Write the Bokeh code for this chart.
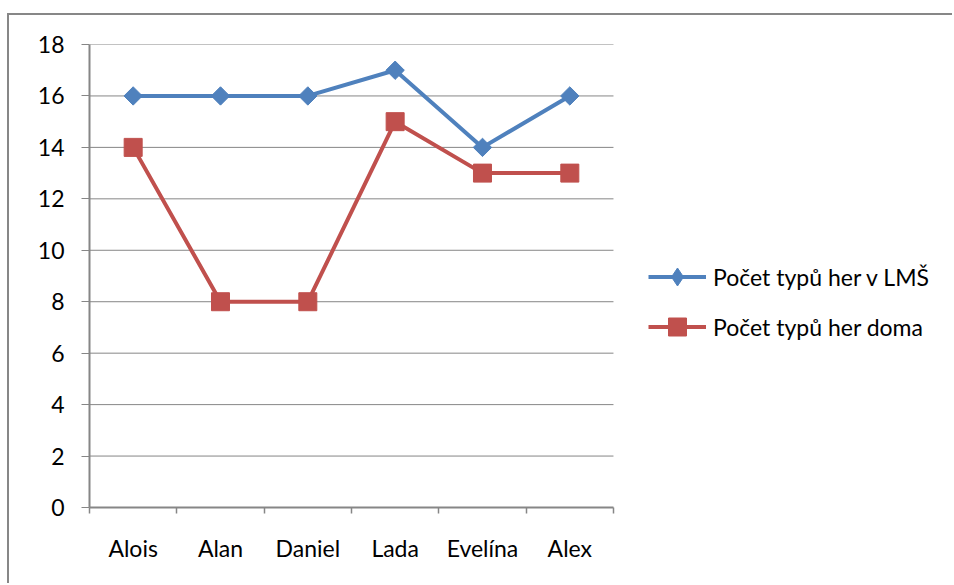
from bokeh.plotting import figure
from bokeh.models import Range1d, FixedTicker, Legend, LegendItem, ColumnDataSource
from bokeh.embed import file_html
from bokeh.resources import INLINE

# Data
names = ["Alois", "Alan", "Daniel", "Lada", "Evelína", "Alex"]
games_lms = [16, 16, 16, 17, 14, 16]
games_home = [14, 8, 8, 15, 13, 13]
y_ticks = [0, 2, 4, 6, 8, 10, 12, 14, 16, 18]

label_lms = "Počet typů her v LMŠ"
label_home = "Počet typů her doma"

BLUE = "#4F81BD"
RED = "#C0504D"
GRID = "#868686"
FONT = "Lato"
FONT_SIZE = "23px"

n = len(names)
x = [i + 0.5 for i in range(n)]
src = ColumnDataSource(dict(x=x, lms=games_lms, home=games_home))

# The frame runs to the right edge so the legend can sit beside the data;
# axis and grid lines are bounded to the category span [0, n].
X_END = 9.905

p = figure(
    width=945, height=570,
    x_range=Range1d(0, X_END), y_range=Range1d(0, 18),
    output_backend="svg", toolbar_location=None,
    min_border_left=80, min_border_right=0,
    min_border_top=29, min_border_bottom=78,
    margin=(13, 0, 0, 7),
    styles={"border-left": "2px solid #878787", "border-top": "2px solid #878787"},
)
p.outline_line_color = None
p.background_fill_color = "white"
p.border_fill_color = "white"

# Axes
xa = p.xaxis[0]
xa.bounds = (0, n)
xa.ticker = FixedTicker(ticks=x, minor_ticks=list(range(n + 1)))
xa.major_label_overrides = {v: s for v, s in zip(x, names)}
xa.major_tick_line_color = None
xa.major_tick_out = 0
xa.major_tick_in = 0
xa.minor_tick_line_color = GRID
xa.minor_tick_line_width = 1.5
xa.minor_tick_out = 6
xa.minor_tick_in = 0
xa.major_label_standoff = 20
xa.axis_line_color = GRID
xa.axis_line_width = 2
xa.major_label_text_font = FONT
xa.major_label_text_font_size = FONT_SIZE
xa.major_label_text_color = "black"

ya = p.yaxis[0]
ya.ticker = FixedTicker(ticks=y_ticks)
ya.minor_tick_line_color = None
ya.major_tick_line_color = GRID
ya.major_tick_line_width = 1
ya.major_tick_out = 8
ya.major_tick_in = 0
ya.major_label_standoff = 17
ya.axis_line_color = GRID
ya.axis_line_width = 2
ya.major_label_text_font = FONT
ya.major_label_text_font_size = FONT_SIZE
ya.major_label_text_color = "black"

p.xgrid.grid_line_color = None
p.ygrid.grid_line_color = None

# Horizontal grid lines across the category span only
grid_y = y_ticks[1:]
p.segment(x0=[0] * len(grid_y), x1=[n] * len(grid_y), y0=grid_y, y1=grid_y,
          line_color=GRID, line_width=1)

# Series
l1 = p.line("x", "lms", source=src, line_color=BLUE, line_width=4)
p.scatter("x", "lms", source=src, marker="square", size=13, angle=0.785398,
          fill_color=BLUE, line_color=BLUE)
l2 = p.line("x", "home", source=src, line_color=RED, line_width=4)
m2 = p.scatter("x", "home", source=src, marker="square", size=18,
               fill_color=RED, line_color=RED)

# Legend key for the diamond series (legend markers are drawn unrotated);
# its single point is NaN so nothing shows in the plot area
key1 = p.scatter([float("nan")], [float("nan")], marker="diamond",
                 fill_color=BLUE, line_color=BLUE)

legend = Legend(
    items=[LegendItem(label=label_lms, renderers=[l1, key1]),
           LegendItem(label=label_home, renderers=[l2, m2])],
    location=(559, 158),
    glyph_width=58, glyph_height=45, spacing=5,
    label_standoff=7, padding=0, margin=0,
    border_line_color=None, background_fill_alpha=0,
    label_text_font=FONT, label_text_font_size=FONT_SIZE,
    label_text_color="black",
)
p.add_layout(legend, "center")

open("out.html", "w").write(file_html(p, INLINE))
